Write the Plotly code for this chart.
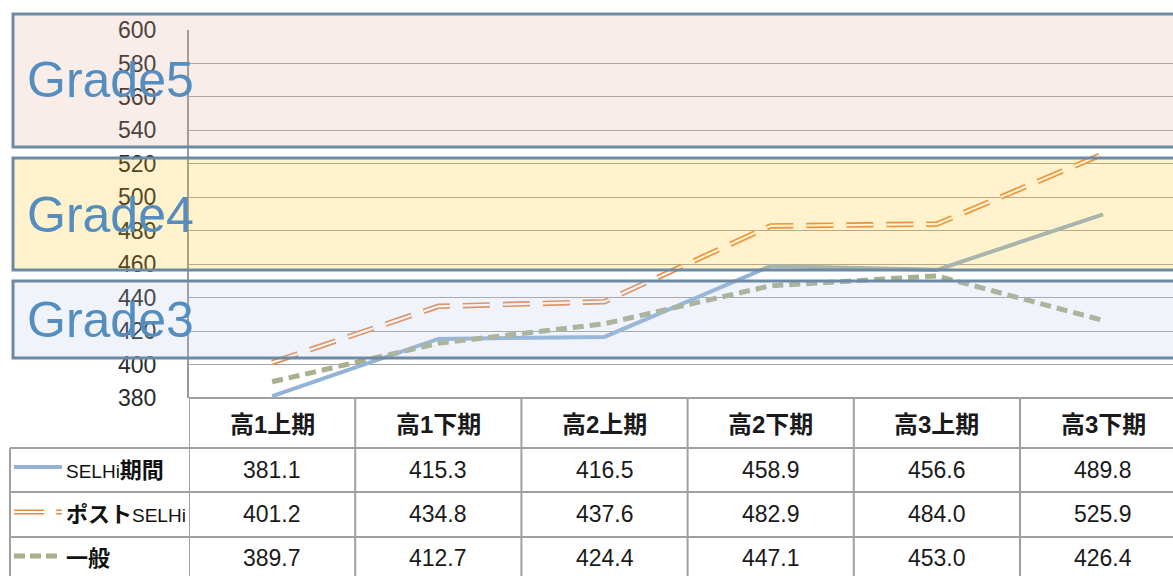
import plotly.graph_objects as go

W, H = 1173, 576

categories = ["高1上期", "高1下期", "高2上期", "高2下期", "高3上期", "高3下期"]
series_names = ["SELHi期間", "ポストSELHi", "一般"]
selhi = [381.1, 415.3, 416.5, 458.9, 456.6, 489.8]
post_selhi = [401.2, 434.8, 437.6, 482.9, 484.0, 525.9]
ippan = [389.7, 412.7, 424.4, 447.1, 453.0, 426.4]
grade_labels = ["Grade5", "Grade4", "Grade3"]


def px(p):
    return p / W


def py(p):
    return 1 - p / H


FONT = "Liberation Sans, Arial, Noto Sans CJK JP, sans-serif"
BLUE = "#93b3d6"
ORANGE = "#e8894c"
GREEN = "#a8b08e"
GRIDC = "#a6a6a6"
TABLEC = "#a0a0a0"


def wrap(s, latin):
    if latin:
        return '<span style="font-size:19px">' + s + "</span>"
    return "<b>" + s + "</b>"


def legend_label(name):
    # Latin parts narrower/regular, CJK parts bold (as in the reference)
    out, buf, latin = "", "", None
    for ch in name:
        is_latin = ord(ch) < 128
        if latin is None or is_latin == latin:
            buf += ch
        else:
            out += wrap(buf, latin)
            buf = ch
        latin = is_latin
    out += wrap(buf, latin)
    return out


xs = list(range(len(categories)))
cat_w = 166.2
x0_px = 189

fig = go.Figure()
fig.add_trace(go.Scatter(x=xs, y=selhi, mode="lines", line=dict(color=BLUE, width=4),
                         showlegend=False, hoverinfo="skip"))
fig.add_trace(go.Scatter(x=xs, y=post_selhi, mode="lines",
                         line=dict(color=ORANGE, width=5.5, dash="27px,13px"),
                         showlegend=False, hoverinfo="skip"))
fig.add_trace(go.Scatter(x=xs, y=post_selhi, mode="lines",
                         line=dict(color="#ffffff", width=2.2, dash="27px,13px"),
                         showlegend=False, hoverinfo="skip"))
fig.add_trace(go.Scatter(x=xs, y=ippan, mode="lines",
                         line=dict(color=GREEN, width=5, dash="11px,6px"),
                         showlegend=False, hoverinfo="skip"))

shapes = []
annotations = []

# bands (semi-transparent, above traces)
bands = [
    (14, 147, "rgba(225,165,145,0.2)", 80),
    (158, 270, "rgba(255,190,0,0.2)", 215),
    (281, 358, "rgba(180,200,232,0.2)", 320),
]
for (t, b, fill, ty), lab in zip(bands, grade_labels):
    shapes.append(dict(type="rect", xref="paper", yref="paper",
                       x0=px(13), x1=px(1190), y0=py(b), y1=py(t),
                       fillcolor=fill, line=dict(color="#6e89a3", width=3),
                       layer="above"))
    annotations.append(dict(xref="paper", yref="paper", x=px(25), y=py(ty),
                            xanchor="left", yanchor="middle", showarrow=False,
                            text=lab, font=dict(family=FONT, size=50, color="#568dbf")))

# table lines
row_lines = [448, 492, 537]
for r in row_lines:
    shapes.append(dict(type="line", xref="paper", yref="paper",
                       x0=px(10), x1=px(1190), y0=py(r), y1=py(r),
                       line=dict(color=TABLEC, width=2)))
shapes.append(dict(type="line", xref="paper", yref="paper",
                   x0=px(x0_px), x1=px(1190), y0=py(398), y1=py(398),
                   line=dict(color=TABLEC, width=2)))
shapes.append(dict(type="line", xref="paper", yref="paper",
                   x0=px(10), x1=px(10), y0=py(448), y1=py(580),
                   line=dict(color=TABLEC, width=2)))
for i in range(len(categories) + 1):
    shapes.append(dict(type="line", xref="x", yref="paper",
                       x0=i - 0.5, x1=i - 0.5, y0=py(398), y1=py(580),
                       line=dict(color=TABLEC, width=2)))

# header
for i, c in enumerate(categories):
    annotations.append(dict(xref="x", yref="paper", x=i, y=py(424),
                            xanchor="center", yanchor="middle", showarrow=False,
                            text="<b>" + c + "</b>",
                            font=dict(family=FONT, size=24, color="#1a1a1a")))

row_centers = [470, 514, 558]
for vals, rc in zip([selhi, post_selhi, ippan], row_centers):
    for i, v in enumerate(vals):
        annotations.append(dict(xref="x", yref="paper", x=i, y=py(rc),
                                xanchor="center", yanchor="middle", showarrow=False,
                                text=f"{v:.1f}",
                                font=dict(family=FONT, size=23, color="#1a1a1a")))

# legend column
for name, rc in zip(series_names, row_centers):
    annotations.append(dict(xref="paper", yref="paper", x=px(64), y=py(rc),
                            xanchor="left", yanchor="middle", showarrow=False,
                            text=legend_label(name),
                            font=dict(family=FONT, size=22, color="#111111")))
shapes.append(dict(type="line", xref="paper", yref="paper",
                   x0=px(14), x1=px(62), y0=py(467), y1=py(467),
                   line=dict(color=BLUE, width=4)))
shapes.append(dict(type="line", xref="paper", yref="paper",
                   x0=px(14), x1=px(62), y0=py(512), y1=py(512),
                   line=dict(color=ORANGE, width=5, dash="30px,12px")))
shapes.append(dict(type="line", xref="paper", yref="paper",
                   x0=px(14), x1=px(62), y0=py(512), y1=py(512),
                   line=dict(color="#ffffff", width=1.8, dash="30px,12px")))
shapes.append(dict(type="line", xref="paper", yref="paper",
                   x0=px(14), x1=px(58), y0=py(556), y1=py(556),
                   line=dict(color=GREEN, width=5, dash="11px,5px")))

fig.update_layout(
    template="none",
    width=W, height=H, autosize=False,
    margin=dict(l=0, r=0, t=0, b=0, pad=0, autoexpand=False),
    paper_bgcolor="white", plot_bgcolor="white",
    showlegend=False,
    xaxis=dict(domain=[px(x0_px), 1],
               range=[-0.5, -0.5 + (W - x0_px) / cat_w], automargin=False,
               showticklabels=False, showgrid=False, zeroline=False, showline=False),
    yaxis=dict(domain=[py(398), py(30)], range=[380, 600], dtick=20, automargin=False,
               showgrid=True, gridcolor=GRIDC, gridwidth=1,
               zeroline=False, showline=True, linecolor="#999999", linewidth=2,
               ticks="", ticklabelstandoff=26,
               tickfont=dict(family=FONT, size=23, color="#2a2a2a")),
    shapes=shapes,
    annotations=annotations,
)

fig.write_html("out.html", config={"displayModeBar": False},
               post_script="document.body.style.margin='0';document.body.style.overflow='hidden';")
